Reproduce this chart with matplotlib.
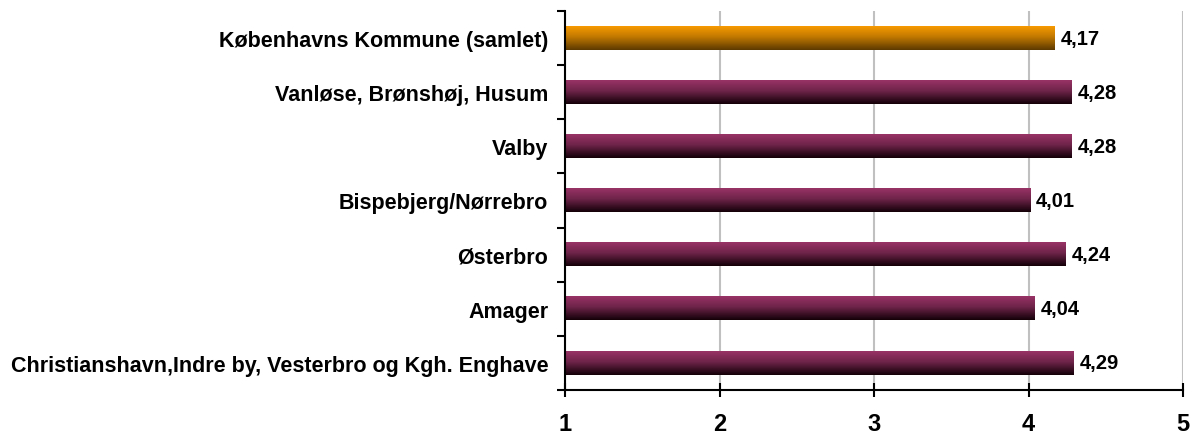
import numpy as np
import matplotlib
matplotlib.use("Agg")
from matplotlib import pyplot as plt
from matplotlib.colors import LinearSegmentedColormap

plt.rcParams['font.family'] = ['Liberation Sans', 'DejaVu Sans']
plt.rcParams['font.weight'] = 'bold'

categories = [
    "Christianshavn,Indre by, Vesterbro og Kgh. Enghave",
    "Amager",
    "Østerbro",
    "Bispebjerg/Nørrebro",
    "Valby",
    "Vanløse, Brønshøj, Husum",
    "Københavns Kommune (samlet)",
]
values = [4.29, 4.04, 4.24, 4.01, 4.28, 4.28, 4.17]
value_labels = ["4,29", "4,04", "4,24", "4,01", "4,28", "4,28", "4,17"]
highlight = "Københavns Kommune (samlet)"

purple = LinearSegmentedColormap.from_list(
    "p", [(0, "#140008"), (0.55, "#6e2449"), (1, "#993366")])
orange = LinearSegmentedColormap.from_list(
    "o", [(0, "#5e3a00"), (0.55, "#c07800"), (1, "#f79a00")])

fig = plt.figure(figsize=(11.92, 4.39), dpi=100)
ax = fig.add_axes([565 / 1192, 48 / 439, 618 / 1192, 379 / 439])

bar_h = 0.43
grad = np.linspace(0, 1, 64).reshape(-1, 1)
for i, (cat, v, lab) in enumerate(zip(categories, values, value_labels)):
    cmap = orange if cat == highlight else purple
    ax.imshow(grad, aspect="auto", cmap=cmap, origin="lower",
              extent=[1, v, i - bar_h / 2, i + bar_h / 2], zorder=3,
              interpolation="bilinear")
    ax.text(v + 0.04, i, lab, va="center", ha="left", fontsize=14.5,
            fontweight="bold", zorder=4)

ax.set_xlim(1, 5)
ax.set_ylim(-0.5, len(categories) - 0.5)
ax.set_xticks([1, 2, 3, 4, 5])
ax.set_xticklabels(["1", "2", "3", "4", "5"], fontsize=17, fontweight="bold")
ax.set_yticks(range(len(categories)))
ax.set_yticklabels(categories, fontsize=15.5, fontweight="bold")
ax.set_yticks(np.arange(-0.5, len(categories), 1), minor=True)
ax.tick_params(axis="y", which="major", length=0, pad=12)
ax.tick_params(axis="y", which="minor", length=6, width=1.5, direction="out")
ax.tick_params(axis="x", which="major", length=10, width=1.5,
               direction="inout", pad=11)

ax.grid(axis="x", color="#c0c0c0", linewidth=1.5, zorder=0)
ax.set_axisbelow(True)
for s in ["top", "right"]:
    ax.spines[s].set_visible(False)
for s in ["left", "bottom"]:
    ax.spines[s].set_linewidth(1.5)
    ax.spines[s].set_zorder(5)

fig.savefig("out.png", dpi=100)
